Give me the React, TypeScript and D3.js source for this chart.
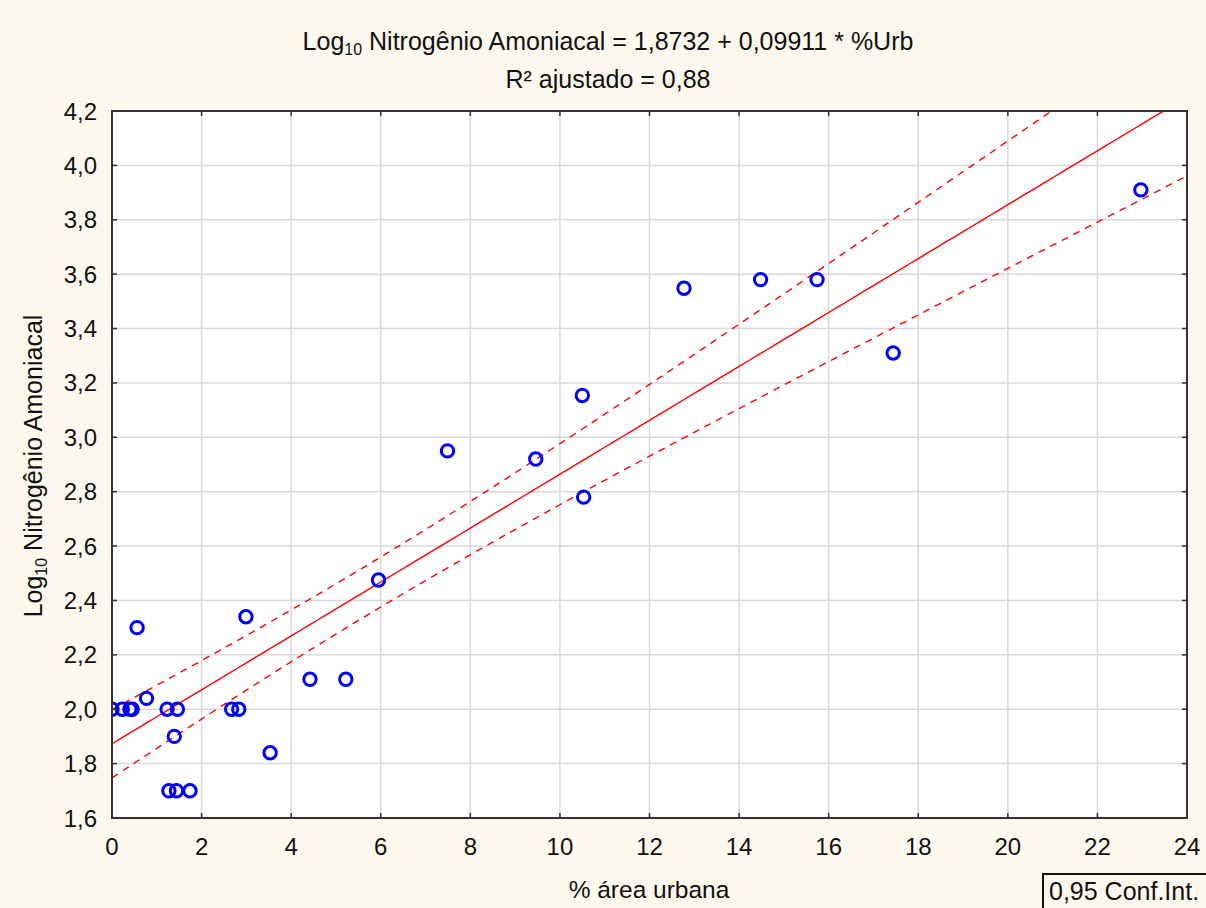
import React, { useEffect, useRef } from 'react';
import * as d3 from 'd3';

// % urban area (x) and Log10 ammonia nitrogen (y)
const urbanPct = [
  0.0, 0.23, 0.4, 0.45, 0.56, 0.77, 1.23, 1.46, 1.39, 1.27, 1.44, 1.74,
  2.67, 2.83, 2.99, 3.53, 4.42, 5.22, 5.95, 7.49, 9.46, 10.5, 10.53,
  12.77, 14.48, 15.74, 17.44, 22.97,
];
const logNitrogen = [
  2.0, 2.0, 2.0, 2.0, 2.3, 2.04, 2.0, 2.0, 1.9, 1.7, 1.7, 1.7,
  2.0, 2.0, 2.34, 1.84, 2.11, 2.11, 2.475, 2.95, 2.92, 3.154, 2.78,
  3.548, 3.58, 3.58, 3.31, 3.91,
];

const xTicks = [0, 2, 4, 6, 8, 10, 12, 14, 16, 18, 20, 22, 24];
const yTicks = [1.6, 1.8, 2.0, 2.2, 2.4, 2.6, 2.8, 3.0, 3.2, 3.4, 3.6, 3.8, 4.0, 4.2];

// fit from the chart title
const intercept = 1.8732;
const slope = 0.09911;
const tCrit = 2.056; // t(0.975, n-2)

const fmt = (v: number) => v.toFixed(1).replace('.', ',');

export default function App() {
  const ref = useRef<SVGSVGElement>(null);

  useEffect(() => {
    const W = 1206, H = 908;
    const left = 112, right = 1187, top = 111, bottom = 818;
    const svg = d3.select(ref.current);
    svg.selectAll('*').remove();

    const x = d3.scaleLinear().domain([0, 24]).range([left, right]);
    const y = d3.scaleLinear().domain([1.6, 4.2]).range([bottom, top]);

    svg.append('rect').attr('width', W).attr('height', H).attr('fill', '#fdf8ed');
    svg.append('rect')
      .attr('x', left).attr('y', top)
      .attr('width', right - left).attr('height', bottom - top)
      .attr('fill', '#ffffff');

    svg.append('clipPath').attr('id', 'plotclip')
      .append('rect')
      .attr('x', left).attr('y', top)
      .attr('width', right - left).attr('height', bottom - top);

    //grid
    const grid = svg.append('g').attr('stroke', '#d9d9d9').attr('stroke-width', 1.5);
    grid.selectAll('.gx').data(xTicks.slice(1, -1)).enter().append('line')
      .attr('x1', d => x(d)).attr('x2', d => x(d))
      .attr('y1', top).attr('y2', bottom);
    grid.selectAll('.gy').data(yTicks.slice(1, -1)).enter().append('line')
      .attr('y1', d => y(d)).attr('y2', d => y(d))
      .attr('x1', left).attr('x2', right);

    //regression + confidence band
    const n = urbanPct.length;
    const xbar = d3.mean(urbanPct) as number;
    const sxx = d3.sum(urbanPct, v => (v - xbar) ** 2);
    const sse = d3.sum(urbanPct, (v, i) => (logNitrogen[i] - (intercept + slope * v)) ** 2);
    const s = Math.sqrt(sse / (n - 2));
    const xs = d3.range(0, 24.01, 0.2);
    const half = (v: number) => tCrit * s * Math.sqrt(1 / n + (v - xbar) ** 2 / sxx);

    const fitG = svg.append('g').attr('clip-path', 'url(#plotclip)');
    const line = d3.line<number>().x(d => x(d));
    fitG.append('path')
      .attr('d', line.y(d => y(intercept + slope * d))(xs))
      .attr('fill', 'none').attr('stroke', '#ff0000').attr('stroke-width', 1.4);
    [1, -1].forEach(sign => {
      fitG.append('path')
        .attr('d', line.y(d => y(intercept + slope * d + sign * half(d)))(xs))
        .attr('fill', 'none').attr('stroke', '#ff0000').attr('stroke-width', 1.4)
        .attr('stroke-dasharray', '7,6');
    });

    //points
    fitG.selectAll('.pt').data(urbanPct).enter().append('circle')
      .attr('cx', d => x(d))
      .attr('cy', (d, i) => y(logNitrogen[i]))
      .attr('r', 6.2)
      .attr('fill', 'none')
      .attr('stroke', '#0000ff')
      .attr('stroke-width', 3);

    //frame and ticks
    svg.append('rect')
      .attr('x', left).attr('y', top)
      .attr('width', right - left).attr('height', bottom - top)
      .attr('fill', 'none').attr('stroke', '#333').attr('stroke-width', 2);
    const tk = svg.append('g').attr('stroke', '#333').attr('stroke-width', 1.5);
    xTicks.forEach(t => {
      tk.append('line').attr('x1', x(t)).attr('x2', x(t)).attr('y1', bottom).attr('y2', bottom - 5);
      tk.append('line').attr('x1', x(t)).attr('x2', x(t)).attr('y1', top).attr('y2', top + 5);
    });
    yTicks.forEach(t => {
      tk.append('line').attr('y1', y(t)).attr('y2', y(t)).attr('x1', left).attr('x2', left + 5);
      tk.append('line').attr('y1', y(t)).attr('y2', y(t)).attr('x1', right).attr('x2', right - 5);
    });

    const font = "'Liberation Sans', Arial, sans-serif";
    svg.append('g').selectAll('text').data(xTicks).enter().append('text')
      .attr('x', d => x(d)).attr('y', 855)
      .attr('text-anchor', 'middle')
      .style('font', `24px ${font}`).attr('fill', '#111')
      .text(d => d);
    svg.append('g').selectAll('text').data(yTicks).enter().append('text')
      .attr('x', 97).attr('y', d => y(d) + 8.5)
      .attr('text-anchor', 'end')
      .style('font', `24px ${font}`).attr('fill', '#111')
      .text(d => fmt(d));

    //titles
    const t1 = svg.append('text').attr('x', 608).attr('y', 50)
      .attr('text-anchor', 'middle').style('font', `25px ${font}`).attr('fill', '#111');
    t1.append('tspan').text('Log');
    t1.append('tspan').attr('dy', 5).style('font-size', '16px').text('10');
    t1.append('tspan').attr('dy', -5).text(' Nitrogênio Amoniacal = 1,8732 + 0,09911 * %Urb');

    svg.append('text').attr('x', 608).attr('y', 88)
      .attr('text-anchor', 'middle').style('font', `25px ${font}`).attr('fill', '#111')
      .text('R² ajustado = 0,88');

    svg.append('text').attr('x', 649).attr('y', 898)
      .attr('text-anchor', 'middle').style('font', `24.5px ${font}`).attr('fill', '#111')
      .text('% área urbana');

    const yl = svg.append('text')
      .attr('transform', 'translate(42,466) rotate(-90)')
      .attr('text-anchor', 'middle').style('font', `25px ${font}`).attr('fill', '#111');
    yl.append('tspan').text('Log');
    yl.append('tspan').attr('dy', 5).style('font-size', '16px').text('10');
    yl.append('tspan').attr('dy', -5).text(' Nitrogênio Amoniacal');

    //legend box
    svg.append('rect')
      .attr('x', 1043).attr('y', 874).attr('width', 175).attr('height', 50)
      .attr('fill', 'none').attr('stroke', '#111').attr('stroke-width', 2);
    svg.append('text').attr('x', 1049).attr('y', 900)
      .style('font', `25px ${font}`).attr('fill', '#111')
      .text('0,95 Conf.Int.');
  }, []);

  return (
    <svg ref={ref} width={1206} height={908}
      style={{ position: 'absolute', left: 0, top: 0, display: 'block' }} />
  );
}
